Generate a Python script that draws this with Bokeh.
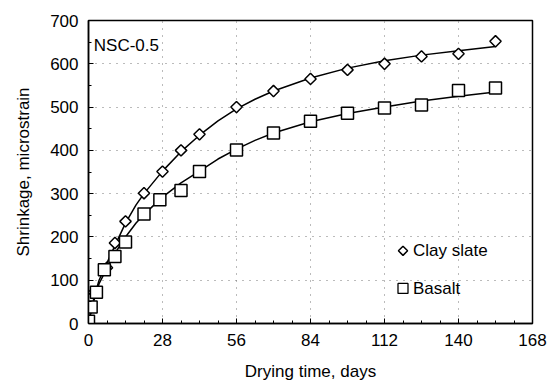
import numpy as np
from bokeh.plotting import figure
from bokeh.models import Range1d, FixedTicker, Label
from bokeh.embed import file_html
from bokeh.resources import INLINE

# Measured data
clay_days = [0, 1, 2, 7, 10, 14, 21, 28, 35, 42, 56, 70, 84, 98, 112, 126, 140, 154]
clay_vals = [0, 38, 72, 129, 186, 236, 301, 351, 400, 437, 500, 537, 565, 586, 600, 617, 623, 652]
basalt_days = [0, 1, 3, 6, 10, 14, 21, 27, 35, 42, 56, 70, 84, 98, 112, 126, 140, 154]
basalt_vals = [5, 38, 72, 124, 155, 188, 253, 286, 307, 351, 401, 440, 467, 486, 498, 505, 538, 544]

# Fitted curves
clay_fit_days = [0, 1, 2, 4, 7, 10, 14, 18, 21, 28, 35, 42, 49, 56, 63, 70, 84, 98, 112, 126, 140, 154]
clay_fit_vals = [0, 30, 58, 100, 140, 180, 232, 274, 300, 352, 397, 435, 468, 496, 518, 537, 567, 590, 607, 620, 630, 640]
basalt_fit_days = [0, 1, 2, 4, 7, 10, 14, 18, 21, 28, 35, 42, 49, 56, 63, 70, 84, 98, 112, 126, 140, 154]
basalt_fit_vals = [0, 28, 52, 92, 128, 162, 200, 232, 252, 292, 325, 352, 380, 403, 423, 440, 466, 485, 500, 514, 525, 535]

series_names = ["Clay slate", "Basalt"]
x_ticks = [0, 28, 56, 84, 112, 140, 168]
y_ticks = [0, 100, 200, 300, 400, 500, 600, 700]

FONT = "Liberation Sans"
FS = "17px"

p = figure(width=549, height=386, output_backend="svg", toolbar_location=None,
           x_range=Range1d(0, 168), y_range=Range1d(0, 700),
           min_border_left=88, min_border_right=17, min_border_top=20, min_border_bottom=63)
p.background_fill_color = "white"
p.border_fill_color = "white"
p.outline_line_color = "black"
p.outline_line_width = 1.5

p.xaxis.ticker = FixedTicker(ticks=x_ticks, minor_ticks=list(range(0, 169, 7)))
p.yaxis.ticker = FixedTicker(ticks=y_ticks, minor_ticks=list(range(0, 701, 50)))
for ax in (p.xaxis, p.yaxis):
    ax.axis_line_color = "black"
    ax.axis_line_width = 1.5
    ax.major_tick_in = 5
    ax.major_tick_out = 0
    ax.minor_tick_in = 3
    ax.minor_tick_out = 0
    ax.major_tick_line_color = "black"
    ax.minor_tick_line_color = "black"
    ax.major_label_text_font = FONT
    ax.major_label_text_font_size = FS
    ax.major_label_text_color = "black"
    ax.axis_label_text_font = FONT
    ax.axis_label_text_font_size = FS
    ax.axis_label_text_font_style = "normal"
    ax.axis_label_text_color = "black"
p.xaxis.axis_label = "Drying time, days"
p.yaxis.axis_label = "Shrinkage, microstrain"
p.xaxis.major_label_standoff = 10
p.yaxis.major_label_standoff = 10
p.xaxis.axis_label_standoff = 13
p.yaxis.axis_label_standoff = 14

p.xgrid.ticker = FixedTicker(ticks=[28, 56, 84, 112, 140])
p.ygrid.ticker = FixedTicker(ticks=[100, 200, 300, 400, 500, 600])
for g in (p.xgrid, p.ygrid):
    g.grid_line_color = "#777777"
    g.grid_line_dash = "1 6"
    g.grid_line_width = 1

p.line(clay_fit_days, clay_fit_vals, line_color="black", line_width=1.5)
p.line(basalt_fit_days, basalt_fit_vals, line_color="black", line_width=1.5)

p.scatter(clay_days, clay_vals, marker="square", angle=np.pi / 4, size=8,
          fill_color="white", line_color="black", line_width=1.5)
p.scatter(basalt_days, basalt_vals, marker="square", size=12,
          fill_color="white", line_color="black", line_width=1.5)

# Legend drawn by hand (rotated-square marker cannot be shown by Bokeh's legend)
leg_x = 119.0          # days, marker column
leg_y = [168, 81]      # microstrain, row centres
p.scatter([leg_x], [leg_y[0]], marker="square", angle=np.pi / 4, size=6.5,
          fill_color="white", line_color="black", line_width=1.5)
p.scatter([leg_x], [leg_y[1]], marker="square", size=10,
          fill_color="white", line_color="black", line_width=1.3)
for name, yy in zip(series_names, leg_y):
    p.add_layout(Label(x=leg_x, y=yy, x_offset=10, text=name, text_font=FONT,
                       text_font_size=FS, text_baseline="middle", text_color="black"))

p.add_layout(Label(x=2, y=642, text="NSC-0.5", text_font=FONT, text_font_size=FS,
                   text_baseline="middle", text_color="black"))

open("out.html", "w").write(file_html(p, INLINE))
